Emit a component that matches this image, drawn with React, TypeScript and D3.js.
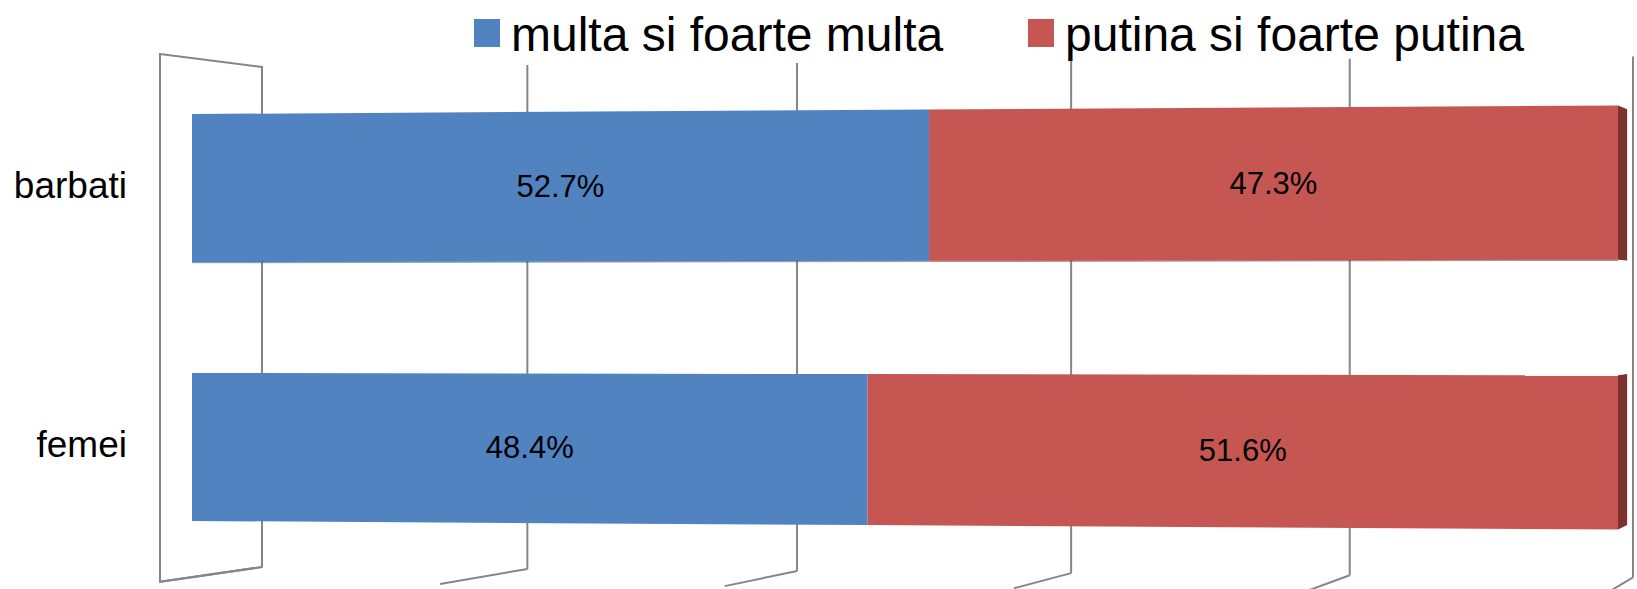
import * as d3 from "d3";

// values (percent)
const categories = ["barbati", "femei"];
const seriesNames = ["multa si foarte multa", "putina si foarte putina"];
const multa = [52.7, 48.4];
const putina = [47.3, 51.6];
const gridTicks = [0, 20, 40, 60, 80, 100];
const colors = ["#5083c0", "#c65652"];

const W = 1637;
const H = 589;
const FONT = "'Liberation Sans', Arial, sans-serif";

// fake 3D: perspective along the value axis, vanishing point for depth
const C = -0.04;
const VP: [number, number] = [2100, 300];
const FRONT_K = 1.0555; // floor/wall front edge
const BAR_BACK_K = 0.981; // bar depth, relative to bar front face
const CY = 317.5;

const depth = d3.scaleLinear().domain([0, 100]).range([0, 1]);
const proj = (v: number) => {
  const u = depth(v);
  return (u * (1 + C)) / (1 + C * u);
};
const grow = (v: number) => 1 / (1 + C * depth(v));

const xFace = d3.scaleLinear().domain([0, 1]).range([192, 1618]);
const xBack = d3.scaleLinear().domain([0, 1]).range([262, 1633]);
const y = d3
  .scaleBand()
  .domain(categories)
  .range([58.5, 576.5])
  .paddingInner(0.4286)
  .paddingOuter(0.2143);

const yAt = (yy: number, v: number) => CY + (yy - CY) * grow(v);
const toward = (p: [number, number], k: number): [number, number] => [
  VP[0] + (p[0] - VP[0]) * k,
  VP[1] + (p[1] - VP[1]) * k,
];
const pts = (a: [number, number][]) => a.map((p) => p.join(",")).join(" ");

export default function App() {
  const bw = y.bandwidth();
  const wallTop = (v: number) => 317 - 250 * grow(v);
  const wallBot = (v: number) => 317 + 250 * grow(v);

  const backTL: [number, number] = [xBack(proj(0)), wallTop(0)];
  const backBL: [number, number] = [xBack(proj(0)), wallBot(0)];
  const leftWall = [toward(backTL, FRONT_K), backTL, backBL, toward(backBL, FRONT_K)];

  const segments = categories.flatMap((cat, i) => {
    const y0 = y(cat)!;
    const y1 = y0 + bw;
    const parts = [
      { s: 0, from: 0, to: multa[i] },
      { s: 1, from: multa[i], to: multa[i] + putina[i] },
    ];
    return parts.map((p) => {
      const xa = xFace(proj(p.from));
      const xb = xFace(proj(p.to));
      const poly: [number, number][] = [
        [xa, yAt(y0, p.from)],
        [xb, yAt(y0, p.to)],
        [xb, yAt(y1, p.to)],
        [xa, yAt(y1, p.from)],
      ];
      const mid = (p.from + p.to) / 2;
      return {
        key: cat + p.s,
        cat,
        i,
        s: p.s,
        poly,
        value: p.to - p.from,
        lx: (xa + xb) / 2,
        ly: yAt(y0 + bw / 2, mid) + 10,
        end: p.to,
      };
    });
  });

  return (
    <svg
      width={W}
      height={H}
      style={{ position: "absolute", left: 0, top: 0, background: "#fff" }}
      fontFamily={FONT}
    >
      {/* left wall */}
      <polygon points={pts(leftWall)} fill="none" stroke="#868686" strokeWidth={2} />

      {/* back wall gridlines + floor lines */}
      {gridTicks.map((t) => {
        const bx = xBack(proj(t));
        const bottom: [number, number] = [bx, wallBot(t)];
        const front = toward(bottom, FRONT_K);
        return (
          <g key={t} stroke="#868686" strokeWidth={2} fill="none">
            <line x1={bx} x2={bx} y1={wallTop(t)} y2={wallBot(t)} />
            <line x1={bx} y1={wallBot(t)} x2={front[0]} y2={front[1]} />
          </g>
        );
      })}

      {/* bars */}
      {segments.map((d) => (
        <g key={d.key}>
          <polygon points={pts(d.poly)} fill={colors[d.s]} />
          {d.i === 0 && (
            <line
              x1={d.poly[3][0]}
              y1={d.poly[3][1] + 0.5}
              x2={d.poly[2][0]}
              y2={d.poly[2][1] + 0.5}
              stroke={d.s === 0 ? "#34577f" : "#7e3533"}
              strokeOpacity={0.55}
              strokeWidth={1.5}
            />
          )}
          {d.end >= 99.99 && (
            <polygon
              points={pts([
                d.poly[1],
                toward(d.poly[1], BAR_BACK_K),
                toward(d.poly[2], BAR_BACK_K),
                d.poly[2],
              ])}
              fill="#7d3230"
            />
          )}
        </g>
      ))}

      {/* data labels */}
      {segments.map((d) => (
        <text
          key={"l" + d.key}
          x={d.lx}
          y={d.ly}
          textAnchor="middle"
          fontSize={31}
          fill="#000"
        >
          {d3.format(".1f")(d.value)}%
        </text>
      ))}

      {/* category labels */}
      {categories.map((c) => (
        <text
          key={c}
          x={127}
          y={yAt(y(c)! + bw / 2, 0) + 10}
          textAnchor="end"
          fontSize={37}
          fill="#000"
        >
          {c}
        </text>
      ))}

      {/* legend */}
      {seriesNames.map((name, i) => {
        const lx = [474, 1028][i];
        return (
          <g key={name}>
            <rect x={lx} y={19} width={26} height={28} fill={colors[i]} />
            <text x={lx + 37} y={51} fontSize={48} fill="#000">
              {name}
            </text>
          </g>
        );
      })}
    </svg>
  );
}
